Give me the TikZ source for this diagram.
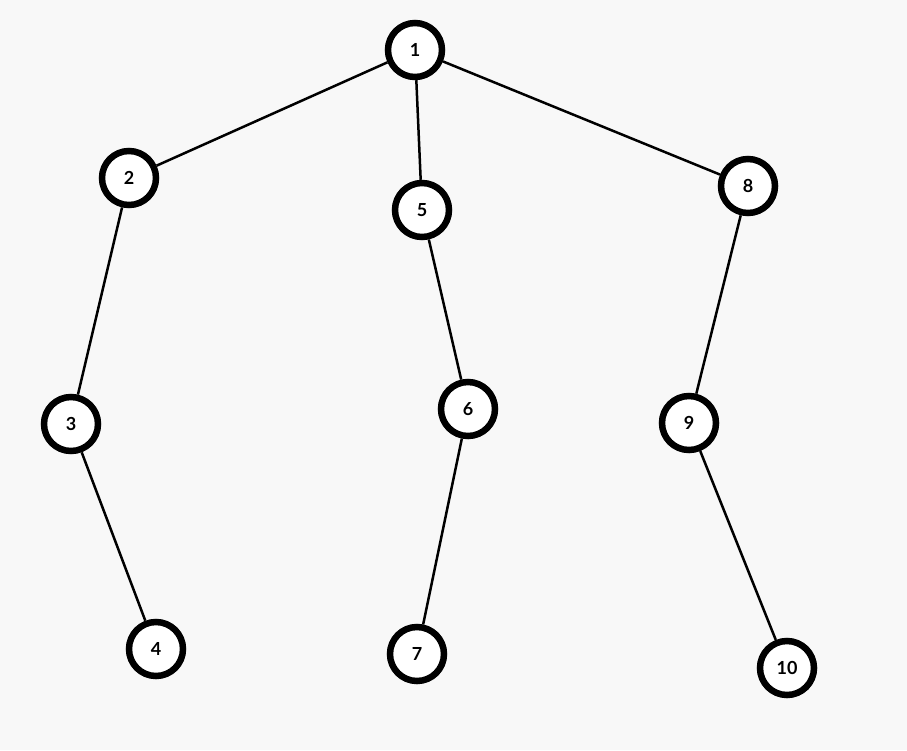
\documentclass[tikz,border=0pt]{standalone}
\usepackage{fontspec}
\setmainfont{Lato}
\definecolor{bg}{RGB}{248,248,248}
\begin{document}
\begin{tikzpicture}[x=1pt,y=-1pt,
  vert/.style={circle,draw=black,fill=white,line width=6.5pt,minimum size=54pt,inner sep=0pt,font=\bfseries\fontsize{18}{18}\selectfont},
  edge/.style={line width=2.5pt,black}]
\fill[bg] (0,0) rectangle (907,750);
\useasboundingbox (0,0) rectangle (907,750);
\node[vert] (n1) at (415,50) {1};
\node[vert] (n2) at (129,178) {2};
\node[vert] (n5) at (422,210) {5};
\node[vert] (n8) at (748,186) {8};
\node[vert] (n3) at (71,424) {3};
\node[vert] (n6) at (468,409) {6};
\node[vert] (n9) at (689,423) {9};
\node[vert] (n4) at (156,649) {4};
\node[vert] (n7) at (417,654) {7};
\node[vert] (n10) at (787,668) {10};
\draw[edge] (n1) -- (n2);
\draw[edge] (n1) -- (n5);
\draw[edge] (n1) -- (n8);
\draw[edge] (n2) -- (n3);
\draw[edge] (n3) -- (n4);
\draw[edge] (n5) -- (n6);
\draw[edge] (n6) -- (n7);
\draw[edge] (n8) -- (n9);
\draw[edge] (n9) -- (n10);
\end{tikzpicture}
\end{document}
